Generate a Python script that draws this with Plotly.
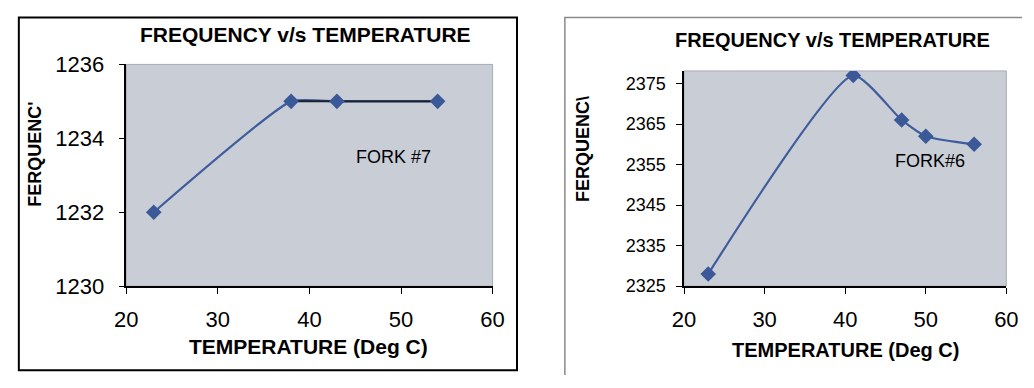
import plotly.graph_objects as go

W, H = 1034, 388

# Fork #7 readings
temp_f7 = [23, 38, 43, 54]
freq_f7 = [1232, 1235, 1235, 1235]

# Fork #6 readings
temp_f6 = [23, 41, 47, 50, 56]
freq_f6 = [2328, 2377, 2366, 2362, 2360]

x_ticks = [20, 30, 40, 50, 60]
y_ticks_f7 = [1230, 1232, 1234, 1236]
y_ticks_f6 = [2325, 2335, 2345, 2355, 2365, 2375]

FONT = "Liberation Sans, Arial, sans-serif"
LINE_BLUE = "#3f5c9c"
MARK_BLUE = "#3b5898"
PLOT_BG = "#c9cdd5"


def px(x):
    return x / W


def py(y):
    return 1 - y / H


fig = go.Figure()

# Fork #7: smoothed line, the tail drawn darker
fig.add_trace(go.Scatter(
    x=temp_f7, y=freq_f7, mode="lines",
    line=dict(color=LINE_BLUE, width=2.2, shape="spline", smoothing=0.45),
    xaxis="x", yaxis="y", showlegend=False, hoverinfo="skip"))
fig.add_trace(go.Scatter(
    x=temp_f7[1:], y=freq_f7[1:], mode="lines",
    line=dict(color="#1c2130", width=2, shape="spline", smoothing=0.8),
    xaxis="x", yaxis="y", showlegend=False, hoverinfo="skip"))
fig.add_trace(go.Scatter(
    x=temp_f7, y=freq_f7, mode="markers",
    marker=dict(symbol="diamond", size=12, color=MARK_BLUE),
    xaxis="x", yaxis="y", showlegend=False))

# Fork #6
fig.add_trace(go.Scatter(
    x=temp_f6, y=freq_f6, mode="lines+markers",
    line=dict(color=LINE_BLUE, width=2.2, shape="spline", smoothing=0.55),
    marker=dict(symbol="diamond", size=12, color=MARK_BLUE),
    xaxis="x2", yaxis="y2", showlegend=False))

axis_common = dict(
    showgrid=False, zeroline=False, showline=True, linecolor="black",
    linewidth=1.5, ticks="outside", ticklen=6, tickcolor="black",
    tickfont=dict(family=FONT, size=22, color="black"))

fig.update_layout(
    width=W, height=H,
    margin=dict(l=0, r=0, t=0, b=0),
    paper_bgcolor="white",
    plot_bgcolor=PLOT_BG,
    xaxis=dict(domain=[px(117), px(492)], range=[20, 60], tickvals=x_ticks,
               anchor="y", ticklabelstandoff=7, **axis_common),
    yaxis=dict(domain=[py(293), py(56)], range=[1230, 1236],
               tickvals=y_ticks_f7, anchor="x", ticklabelstandoff=10,
               **axis_common),
    xaxis2=dict(domain=[px(688), px(1018)], range=[20, 60], tickvals=x_ticks,
                anchor="y2", ticklabelstandoff=7, **axis_common),
    yaxis2=dict(domain=[py(293), py(63)], range=[2325, 2378.1],
                tickvals=y_ticks_f6, anchor="x2", ticklabelstandoff=7,
                **{**axis_common,
                   "tickfont": dict(family=FONT, size=18, color="black")}),
)

shapes = []
# light outline of each plot area
for xr, yr in (("x domain", "y domain"), ("x2 domain", "y2 domain")):
    shapes.append(dict(type="rect", xref=xr, yref=yr, x0=0, x1=1, y0=0, y1=1,
                       line=dict(color="#a9acb3", width=1), layer="below"))
# frame around the first chart
shapes.append(dict(type="rect", xref="paper", yref="paper",
                   x0=px(7), x1=px(517), y0=py(383), y1=py(6),
                   line=dict(color="black", width=2)))
# frame of the second chart (left and top edges)
shapes.append(dict(type="path", xref="paper", yref="paper",
                   path=f"M {px(566)} {py(388)} L {px(566)} {py(6)} L 1 {py(6)}",
                   line=dict(color="#8a8a8a", width=1.5)))
fig.update_layout(shapes=shapes)

annotations = [
    dict(text="<b>FREQUENCY v/s TEMPERATURE</b>", x=px(300), y=py(24),
         font=dict(family=FONT, size=21, color="black")),
    dict(text="<b>FREQUENCY v/s TEMPERATURE</b>", x=px(840), y=py(30),
         font=dict(family=FONT, size=20, color="black")),
    dict(text="<b>TEMPERATURE (Deg C)</b>", x=px(304), y=py(358),
         font=dict(family=FONT, size=21, color="black")),
    dict(text="<b>TEMPERATURE (Deg C)</b>", x=px(853), y=py(361),
         font=dict(family=FONT, size=20, color="black")),
    dict(text="<b>FERQUENC'</b>", x=px(24), y=py(152), textangle=-90,
         font=dict(family=FONT, size=18, color="black")),
    dict(text="<b>FERQUENC\\</b>", x=px(584), y=py(146), textangle=-90,
         font=dict(family=FONT, size=18, color="black")),
]
for a in annotations:
    a.update(xref="paper", yref="paper", showarrow=False,
             xanchor="center", yanchor="middle")

annotations += [
    dict(text="FORK #7", x=49.2, y=1233.5, xref="x", yref="y",
         showarrow=False, font=dict(family=FONT, size=18, color="black")),
    dict(text="FORK#6", x=50.5, y=2355.8, xref="x2", yref="y2",
         showarrow=False, font=dict(family=FONT, size=18, color="black")),
]
fig.update_layout(annotations=annotations)

fig.write_html("out.html")
